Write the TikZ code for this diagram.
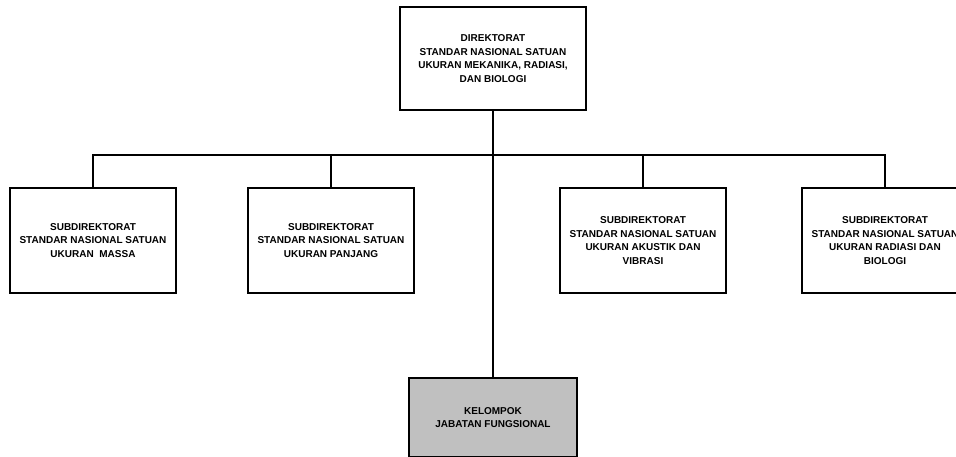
\documentclass[tikz,border=0pt]{standalone}
\usepackage{fontspec}
\setmainfont{Liberation Sans}
\definecolor{kelgray}{RGB}{192,192,192}
\begin{document}
\begin{tikzpicture}[x=1pt,y=-1pt,line width=1.1pt,
    org node/.style={draw,align=center,inner sep=0pt,font=\fontsize{10}{13.5}\selectfont\bfseries},
    dir node/.style={org node,minimum width=186pt,minimum height=103pt},
    sub node/.style={org node,minimum width=166pt,minimum height=105pt},
    kel node/.style={org node,fill=kelgray,minimum width=168pt,minimum height=79pt}]
                \useasboundingbox (0,0) rectangle (956,456);
                \clip (0,0) rectangle (956,456);

                \node[dir node] at (493, 58.5) (dir) {DIREKTORAT\\STANDAR NASIONAL SATUAN\\UKURAN MEKANIKA, RADIASI,\\DAN BIOLOGI};
                \node[sub node] at (93, 240.5) (massa) {SUBDIREKTORAT\\STANDAR NASIONAL SATUAN\\UKURAN\ \ MASSA};
                \node[sub node] at (331, 240.5) (panjang) {SUBDIREKTORAT\\STANDAR NASIONAL SATUAN\\UKURAN PANJANG};
                \node[sub node] at (643, 240.5) (akustik) {SUBDIREKTORAT\\STANDAR NASIONAL SATUAN\\UKURAN AKUSTIK DAN\\VIBRASI};
                \node[sub node] at (885, 240.5) (radiasi) {SUBDIREKTORAT\\STANDAR NASIONAL SATUAN\\UKURAN RADIASI DAN\\BIOLOGI};
                \node[kel node] at (493, 417.5) (kel) {KELOMPOK\\JABATAN FUNGSIONAL};

                \coordinate (bus) at (493, 155);

                \draw (dir.south) -- (kel.north);
                \draw (massa.north) |- (bus) -| (radiasi.north);
                \draw (panjang.north) -- (panjang.north |- bus);
                \draw (akustik.north) -- (akustik.north |- bus);
            \end{tikzpicture}
\end{document}
